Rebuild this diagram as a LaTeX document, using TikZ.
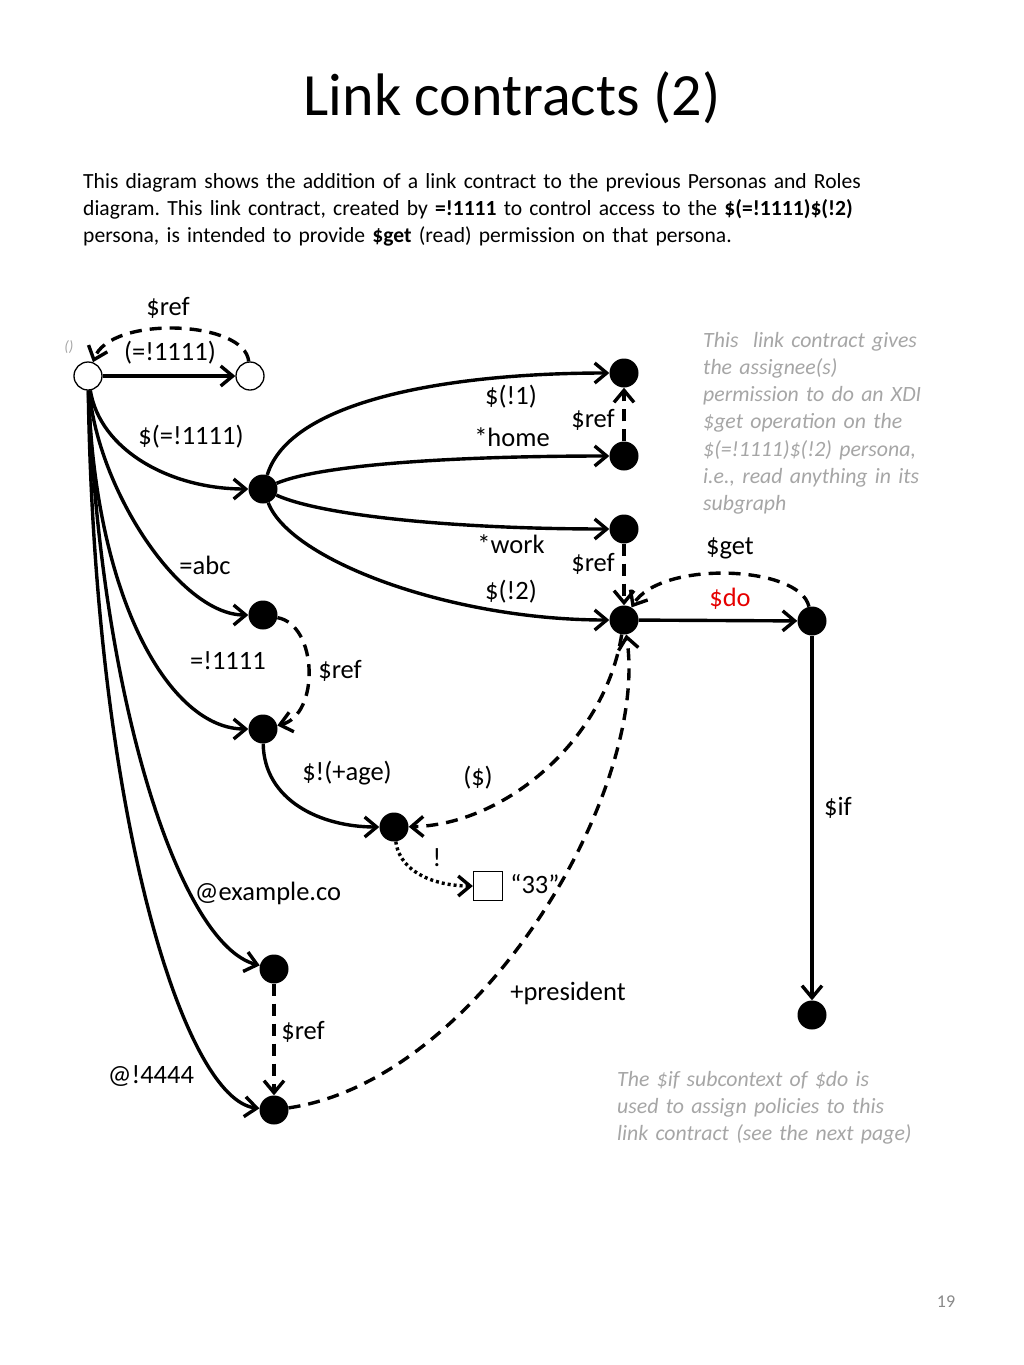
\documentclass[tikz,border=0pt]{standalone}
\usepackage{fontspec}
\setmainfont{Carlito}
\usetikzlibrary{arrows.meta}
\definecolor{txtgray}{RGB}{166,166,166}
\definecolor{numgray}{RGB}{137,137,137}
\definecolor{dored}{RGB}{230,0,0}
\frenchspacing
\begin{document}
\begin{tikzpicture}[x=1pt,y=-1pt,
  every node/.style={inner sep=0pt},
  wnode/.style={circle,draw,line width=1.3pt,fill=white,minimum size=28pt},
  bnode/.style={circle,fill=black,minimum size=29pt},
  valbox/.style={rectangle,draw,line width=1.3pt,minimum size=29pt},
  lbl/.style={font=\fontsize{26.5}{31}\selectfont},
  note/.style={font=\fontsize{21.8}{27.3}\selectfont\itshape,text=txtgray,align=left,text width=330pt,anchor=base west},
  link/.style={line width=3.4pt,-{Straight Barb[length=12pt,width=20pt]}},
  reflink/.style={link,dash pattern=on 12pt off 8pt},
  dotlink/.style={link,dash pattern=on 3pt off 3pt}
]
\useasboundingbox[fill=white] (0,0) rectangle (1024,1365);

% title and intro
\node[font=\fontsize{60}{72}\selectfont] (title) at (512,98) {Link contracts (2)};
\node[anchor=base west,text width=920pt,align=left,font=\fontsize{21.6}{27}\selectfont] (intro) at (83,188)
  {This diagram shows the addition of a link contract to the previous Personas and Roles\\
   diagram. This link contract, created by \textbf{=!1111} to control access to the \textbf{\$(=!1111)\$(!2)}\\
   persona, is intended to provide \textbf{\$get} (read) permission on that persona.};

% nodes
\node[wnode] (R) at (88,376) {};
\node[wnode] (R2) at (250,376) {};
\node[bnode] (A) at (263,489) {};
\node[bnode] (B1) at (624,373) {};
\node[bnode] (B2) at (624,456) {};
\node[bnode] (B3) at (624,529) {};
\node[bnode] (B4) at (624,620) {};
\node[bnode] (D) at (812,621) {};
\node[bnode] (E) at (812,1015) {};
\node[bnode] (C1) at (263,615) {};
\node[bnode] (C2) at (263,729) {};
\node[bnode] (F) at (394,827) {};
\node[valbox] (V) at (488,886) {};
\node[bnode] (G) at (274,969) {};
\node[bnode] (H) at (274,1110) {};

% connectors
\draw[link] (R) -- (R2);
\draw[reflink] (R2) .. controls (245,320) and (110,315) .. (R);
\draw[link] (R) .. controls (100,450) and (170,489) .. (A);
\draw[link] (R) .. controls (98,490) and (180,615) .. (C1);
\draw[link] (R) .. controls (95,600) and (170,729) .. (C2);
\draw[link] (R) .. controls (100,700) and (180,945) .. (G);
\draw[link] (R) .. controls (95,820) and (185,1100) .. (H);
\draw[link] (A) .. controls (290,400) and (450,373) .. (B1);
\draw[link] (A) .. controls (320,465) and (450,456) .. (B2);
\draw[link] (A) .. controls (320,515) and (450,529) .. (B3);
\draw[link] (A) .. controls (290,560) and (450,620) .. (B4);
\draw[reflink] (B2) -- (B1);
\draw[reflink] (B3) -- (B4);
\draw[reflink] (C1) .. controls (318,625) and (320,715) .. (C2);
\draw[link] (C2) .. controls (264,800) and (320,827) .. (F);
\draw[reflink] (B4) .. controls (605,740) and (505,825) .. (F);
\draw[dotlink] (F) .. controls (400,875) and (440,886) .. (V);
\draw[reflink] (G) -- (H);
\draw[reflink] (H) .. controls (480,1080) and (650,790) .. (B4);
\draw[link] (B4) -- (D);
\draw[reflink] (D) .. controls (800,565) and (660,560) .. (B4);
\draw[link] (D) -- (E);

% labels
\node[font=\fontsize{15}{18}\selectfont\itshape,text=txtgray] (lroot) at (69,347) {()};
\node[lbl] (l1) at (168,308) {\$ref};
\node[lbl] (l2) at (170,353) {(=!1111)};
\node[lbl] (l3) at (191,437) {\$(=!1111)};
\node[lbl] (l4) at (511,397) {\$(!1)};
\node[lbl] (l5) at (512,437) {*home};
\node[lbl] (l6) at (593,420) {\$ref};
\node[lbl] (l7) at (511,544) {*work};
\node[lbl] (l8) at (593,564) {\$ref};
\node[lbl] (l9) at (511,592) {\$(!2)};
\node[lbl] (l10) at (730,548) {\$get};
\node[lbl,text=dored] (l11) at (730,599) {\$do};
\node[lbl] (l12) at (205,565) {=abc};
\node[lbl] (l13) at (228,661) {=!1111};
\node[lbl] (l14) at (340,671) {\$ref};
\node[lbl] (l15) at (347,773) {\$!(+age)};
\node[lbl] (l16) at (478,778) {(\$)};
\node[lbl] (l17) at (437,858) {!};
\node[lbl] (l18) at (535,884) {“33”};
\node[lbl] (l19) at (838,808) {\$if};
\node[lbl] (l20) at (268,893) {@example.co};
\node[lbl] (l21) at (568,993) {+president};
\node[lbl] (l22) at (303,1032) {\$ref};
\node[lbl] (l23) at (151,1076) {@!4444};

% notes
\node[note] (note1) at (703,347) {This\ \ link contract gives\\ the assignee(s)\\ permission to do an XDI\\ \$get operation on the\\ \$(=!1111)\$(!2) persona,\\ i.e., read anything in its\\ subgraph};
\node[note] (note2) at (617,1086) {The \$if subcontext of \$do is\\ used to assign policies to this\\ link contract (see the next page)};
\node[font=\fontsize{18}{22}\selectfont,text=numgray] (pnum) at (946,1302) {19};
\end{tikzpicture}
\end{document}
